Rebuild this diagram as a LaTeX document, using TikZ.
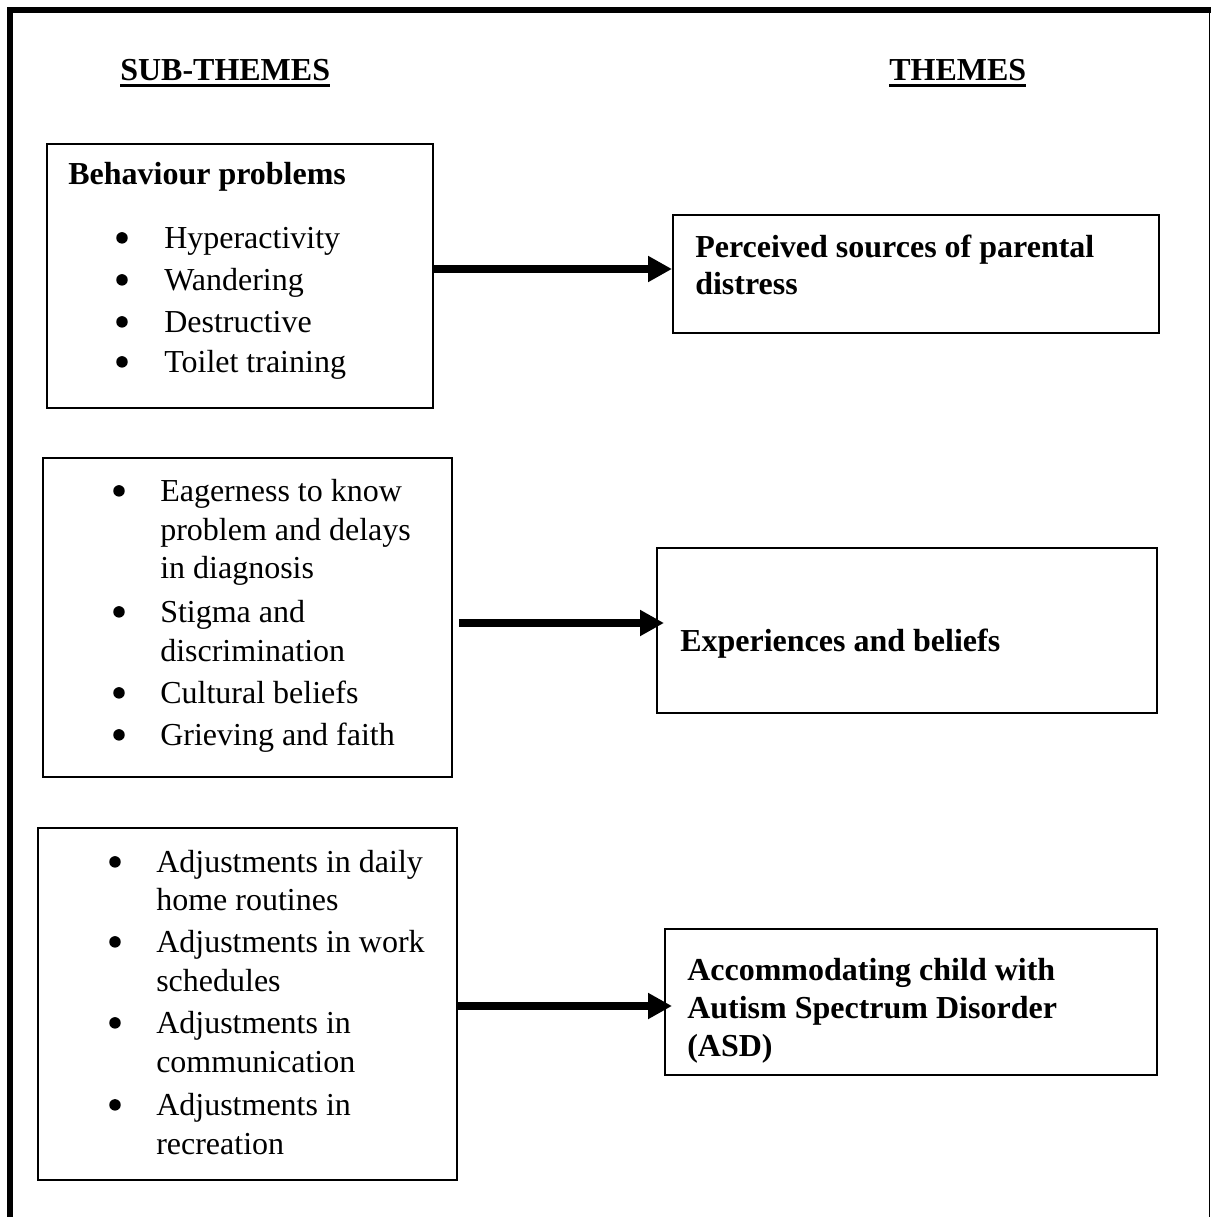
\documentclass[tikz,border=0pt]{standalone}
\usepackage{fontspec}
\setmainfont{Liberation Serif}
\usetikzlibrary{arrows.meta,fit}
\begin{document}
\begin{tikzpicture}[x=0.75pt,y=-0.75pt,
  box/.style={draw, line width=1.5pt, inner sep=0pt},
  txt/.style={anchor=base west, inner sep=0pt, font=\fontsize{24pt}{30pt}\selectfont},
  btxt/.style={anchor=base west, inner sep=0pt, font=\fontsize{24pt}{30pt}\selectfont\bfseries},
  bul/.style={circle, fill, inner sep=0pt, minimum size=8.6pt, yshift=7.6pt},
  arr/.style={line width=6.5pt, -{Triangle[length=18pt,width=18.5pt]}},
  uline/.style={line width=2.2pt}]
\useasboundingbox (0,0) rectangle (1211,1217);
% outer frame
\draw[line width=4.5pt] (10,1217) -- (10,10) -- (1211,10);
\draw[line width=1.2pt] (1209.5,10) -- (1209.5,1217);
% headings
\node[btxt] (h1) at (120,80) {SUB-THEMES};
\node[btxt] (h2) at (889,80) {THEMES};
\draw[uline] ([yshift=-4pt]h1.base west) -- ([yshift=-4pt]h1.base east);
\draw[uline] ([yshift=-4pt]h2.base west) -- ([yshift=-4pt]h2.base east);
% boxes
\node[box, fit={(47,144) (433,408)}] (b1) {};
\node[box, fit={(673,215) (1159,333)}] (p1) {};
\node[box, fit={(43,458) (452,777)}] (b2) {};
\node[box, fit={(657,548) (1157,713)}] (p2) {};
\node[box, fit={(38,828) (457,1180)}] (b3) {};
\node[box, fit={(665,929) (1157,1075)}] (p3) {};
% box 1 text
\node[btxt] (b1h) at (68,184) {Behaviour problems};
\node[bul] (b1u1) at (122,248) {};
\node[bul] (b1u2) at (122,290) {};
\node[bul] (b1u3) at (122,332) {};
\node[bul] (b1u4) at (122,372) {};
\node[txt] (b1t1) at (164,248) {Hyperactivity};
\node[txt] (b1t2) at (164,290) {Wandering};
\node[txt] (b1t3) at (164,332) {Destructive};
\node[txt] (b1t4) at (164,372) {Toilet training};
% box 2 text
\node[bul] (b2u1) at (119,501) {};
\node[bul] (b2u2) at (119,622) {};
\node[bul] (b2u3) at (119,703) {};
\node[bul] (b2u4) at (119,745) {};
\node[txt] (b2t1) at (160,501) {Eagerness to know};
\node[txt] (b2t2) at (160,540) {problem and delays};
\node[txt] (b2t3) at (160,578) {in diagnosis};
\node[txt] (b2t4) at (160,622) {Stigma and};
\node[txt] (b2t5) at (160,661) {discrimination};
\node[txt] (b2t6) at (160,703) {Cultural beliefs};
\node[txt] (b2t7) at (160,745) {Grieving and faith};
% box 3 text
\node[bul] (b3u1) at (115,872) {};
\node[bul] (b3u2) at (115,952) {};
\node[bul] (b3u3) at (115,1033) {};
\node[bul] (b3u4) at (115,1115) {};
\node[txt] (b3t1) at (156,872) {Adjustments in daily};
\node[txt] (b3t2) at (156,910) {home routines};
\node[txt] (b3t3) at (156,952) {Adjustments in work};
\node[txt] (b3t4) at (156,991) {schedules};
\node[txt] (b3t5) at (156,1033) {Adjustments in};
\node[txt] (b3t6) at (156,1072) {communication};
\node[txt] (b3t7) at (156,1115) {Adjustments in};
\node[txt] (b3t8) at (156,1154) {recreation};
% theme texts
\node[btxt] (p1t1) at (695,257) {Perceived sources of parental};
\node[btxt] (p1t2) at (695,294) {distress};
\node[btxt] (p2t1) at (680,651) {Experiences and beliefs};
\node[btxt] (p3t1) at (687,980) {Accommodating child with};
\node[btxt] (p3t2) at (687,1018) {Autism Spectrum Disorder};
\node[btxt] (p3t3) at (687,1056) {(ASD)};
% arrows
\coordinate (ya) at (0,269);
\coordinate (yb) at (0,623);
\coordinate (yc) at (0,1006);
\draw[arr] (b1.east |- ya) -- (p1.west |- ya);
\draw[arr] ([xshift=4.5pt]b2.east |- yb) -- ([xshift=6pt]p2.west |- yb);
\draw[arr] (b3.east |- yc) -- ([xshift=6pt]p3.west |- yc);
\end{tikzpicture}
\end{document}
